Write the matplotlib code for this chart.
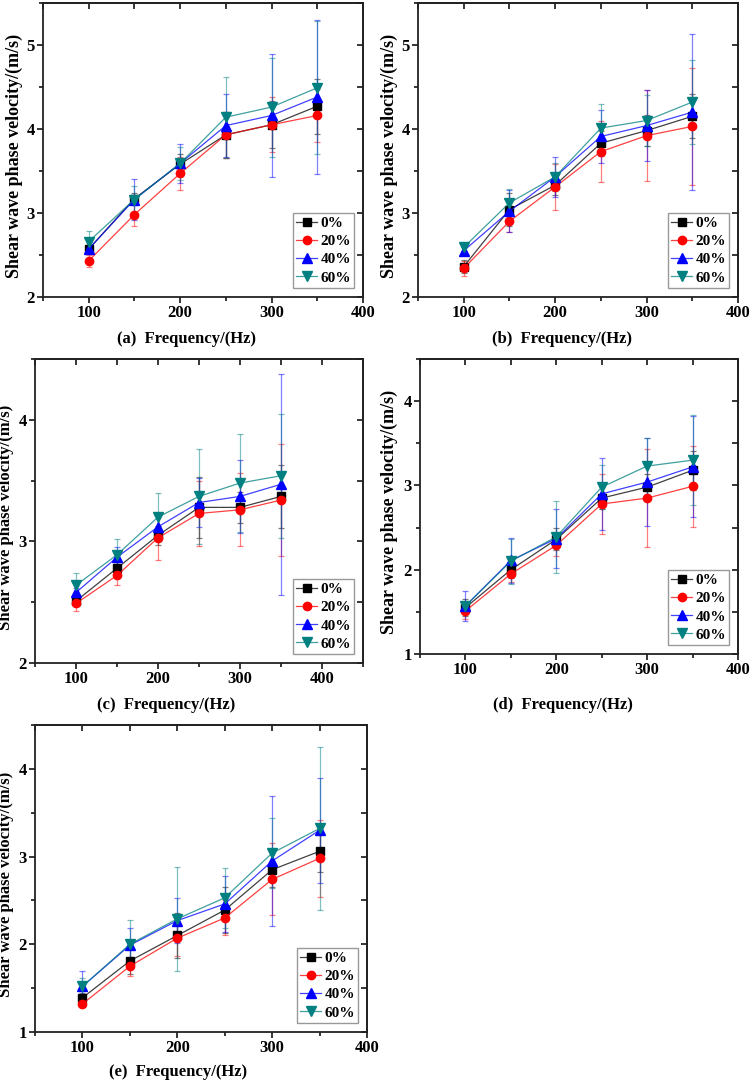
import numpy as np
import matplotlib
matplotlib.use("Agg")
import matplotlib.pyplot as plt
from matplotlib.ticker import MultipleLocator

plt.rcParams["font.family"] = ["Liberation Serif", "DejaVu Serif"]
plt.rcParams["font.weight"] = "bold"
plt.rcParams["axes.labelweight"] = "bold"

# =========================
# Data
# =========================
freq = [100, 150, 200, 250, 300, 350]
contents = ["0%", "20%", "40%", "60%"]

# rows: 0%, 20%, 40%, 60%
vel_a = [[2.57, 3.17, 3.58, 3.93, 4.05, 4.27],
         [2.43, 2.98, 3.47, 3.93, 4.05, 4.16],
         [2.57, 3.16, 3.59, 4.04, 4.16, 4.38],
         [2.66, 3.16, 3.59, 4.14, 4.26, 4.49]]
err_a = [[0.05, 0.07, 0.12, 0.27, 0.28, 0.33],
         [0.07, 0.14, 0.20, 0.27, 0.33, 0.31],
         [0.05, 0.24, 0.23, 0.37, 0.73, 0.92],
         [0.13, 0.16, 0.20, 0.48, 0.59, 0.79]]

vel_b = [[2.36, 3.04, 3.33, 3.83, 3.98, 4.15],
         [2.34, 2.90, 3.31, 3.73, 3.92, 4.03],
         [2.55, 3.02, 3.43, 3.91, 4.04, 4.20],
         [2.59, 3.12, 3.43, 4.01, 4.10, 4.32]]
err_b = [[0.08, 0.20, 0.12, 0.15, 0.18, 0.26],
         [0.09, 0.13, 0.27, 0.36, 0.54, 0.70],
         [0.05, 0.25, 0.24, 0.32, 0.42, 0.93],
         [0.05, 0.16, 0.17, 0.29, 0.30, 0.50]]

vel_c = [[2.51, 2.78, 3.05, 3.28, 3.28, 3.37],
         [2.49, 2.72, 3.03, 3.23, 3.26, 3.34],
         [2.58, 2.87, 3.12, 3.32, 3.37, 3.47],
         [2.64, 2.89, 3.20, 3.37, 3.48, 3.54]]
err_c = [[0.04, 0.05, 0.08, 0.25, 0.13, 0.26],
         [0.06, 0.08, 0.18, 0.27, 0.30, 0.46],
         [0.04, 0.08, 0.10, 0.20, 0.30, 0.91],
         [0.10, 0.13, 0.20, 0.39, 0.40, 0.51]]

vel_d = [[1.55, 2.00, 2.36, 2.85, 2.98, 3.18],
         [1.51, 1.95, 2.29, 2.78, 2.85, 2.99],
         [1.57, 2.11, 2.37, 2.90, 3.04, 3.22],
         [1.57, 2.10, 2.39, 2.98, 3.23, 3.30]]
err_d = [[0.10, 0.10, 0.13, 0.13, 0.15, 0.23],
         [0.10, 0.10, 0.13, 0.36, 0.58, 0.48],
         [0.18, 0.27, 0.35, 0.43, 0.52, 0.60],
         [0.05, 0.27, 0.43, 0.26, 0.33, 0.53]]

vel_e = [[1.39, 1.81, 2.10, 2.39, 2.85, 3.06],
         [1.32, 1.75, 2.07, 2.30, 2.74, 2.98],
         [1.52, 1.99, 2.27, 2.46, 2.95, 3.30],
         [1.52, 2.00, 2.29, 2.53, 3.04, 3.32]]
err_e = [[0.05, 0.15, 0.26, 0.26, 0.20, 0.24],
         [0.03, 0.11, 0.20, 0.20, 0.41, 0.44],
         [0.17, 0.20, 0.26, 0.32, 0.74, 0.60],
         [0.10, 0.28, 0.59, 0.34, 0.40, 0.93]]

colors = ["#000000", "#ff0000", "#0000ff", "#008080"]
markers = ["s", "o", "^", "v"]


def draw_panel(ax, vel, err, tag, xlim, ylim, xlabel_pos, ylabel_x, ylabel_size):
    """One sub-figure: four series with error bars."""
    for i in range(4):
        c = matplotlib.colors.to_rgb(colors[i])
        ax.errorbar(freq, vel[i], yerr=err[i], fmt="none",
                    ecolor=(*c, 0.5), elinewidth=0.9, capsize=2.5,
                    capthick=0.9, zorder=2)
        ax.plot(freq, vel[i], color=(*c, 0.75), lw=0.9,
                marker=markers[i], ms=6.5 if i > 1 else 6,
                mfc=colors[i], mec=colors[i], label=contents[i], zorder=3)

    ax.set_xlim(*xlim)
    ax.set_ylim(*ylim)
    ax.xaxis.set_major_locator(MultipleLocator(100))
    ax.xaxis.set_minor_locator(MultipleLocator(50))
    ax.yaxis.set_major_locator(MultipleLocator(1))
    ax.yaxis.set_minor_locator(MultipleLocator(0.5))
    ax.tick_params(axis="both", which="major", direction="out", length=4,
                   width=1.1, labelsize=12, pad=2, top=False, right=False)
    ax.tick_params(axis="both", which="minor", direction="out", length=3,
                   width=1.1, top=False, right=False)

    # inward ticks on the top and right frame
    top = ax.secondary_xaxis("top")
    top.xaxis.set_major_locator(MultipleLocator(50))
    top.tick_params(direction="in", length=4, width=1.1, labeltop=False)
    right = ax.secondary_yaxis("right")
    right.yaxis.set_major_locator(MultipleLocator(0.5))
    right.tick_params(direction="in", length=4, width=1.1, labelright=False)
    for sec in (top, right):
        for sp in sec.spines.values():
            sp.set_linewidth(1.3)
            sp.set_color("#222222")

    for sp in ax.spines.values():
        sp.set_linewidth(1.3)
        sp.set_color("#222222")

    ax.set_xlabel(f"({tag})  Frequency/(Hz)", fontsize=12)
    ax.xaxis.set_label_coords(*xlabel_pos)
    ax.set_ylabel("Shear wave phase velocity/(m/s)", fontsize=ylabel_size)
    ax.yaxis.set_label_coords(ylabel_x, 0.48)

    leg = ax.legend(loc="lower right", fontsize=11, frameon=True,
                    fancybox=False, edgecolor="#808080", handlelength=1.4,
                    handletextpad=0.2, labelspacing=0.3, borderpad=0.2,
                    borderaxespad=0.6)
    leg.get_frame().set_linewidth(1.0)


fig = plt.figure(figsize=(7.5, 10.83), dpi=100)

ax_a = fig.add_axes([0.0573, 0.7258, 0.4267, 0.2715])
ax_b = fig.add_axes([0.5573, 0.7258, 0.4267, 0.2715])
ax_c = fig.add_axes([0.0467, 0.3878, 0.4373, 0.2807])
ax_d = fig.add_axes([0.5600, 0.3961, 0.4240, 0.2724])
ax_e = fig.add_axes([0.0467, 0.0471, 0.4427, 0.2835])

draw_panel(ax_a, vel_a, err_a, "a", (50, 400), (2, 5.5), (0.45, -0.115), -0.0625, 13)
draw_panel(ax_b, vel_b, err_b, "b", (50, 400), (2, 5.5), (0.45, -0.115), -0.0625, 13)
draw_panel(ax_c, vel_c, err_c, "c", (50, 450), (2, 4.5), (0.40, -0.112), -0.064, 12)
draw_panel(ax_d, vel_d, err_d, "d", (50, 400), (1, 4.5), (0.45, -0.146), -0.069, 13)
draw_panel(ax_e, vel_e, err_e, "e", (50, 400), (1, 4.5), (0.43, -0.104), -0.063, 12)

fig.savefig("out.png", dpi=100)
